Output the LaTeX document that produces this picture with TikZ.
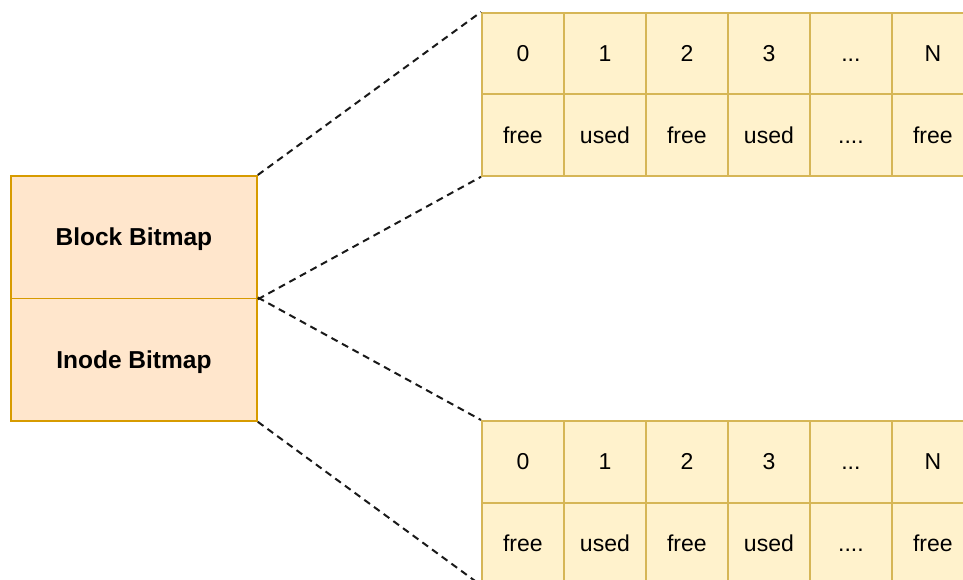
\documentclass[tikz,border=0pt]{standalone}
\usepackage{fontspec}
\setmainfont{Liberation Sans}
\definecolor{orfill}{HTML}{FFE6CC}
\definecolor{ordraw}{HTML}{D79B00}
\definecolor{yefill}{HTML}{FFF2CC}
\definecolor{yedraw}{HTML}{D6B656}
\newcommand\mythreedots{...}
\newcommand\myfourdots{....}
\tikzset{
  cell/.style={draw=yedraw, fill=yefill, line width=1.8pt, minimum width=82pt, minimum height=81.5pt, inner sep=0pt, anchor=north west, text height=16.5pt, text depth=0pt, font=\fontsize{23}{27}\selectfont},
  bmbox/.style={draw=ordraw, fill=orfill, line width=1.8pt, minimum width=246pt, minimum height=122.5pt, inner sep=0pt, anchor=north west, text height=17.5pt, text depth=0pt, font=\fontsize{24.5}{29}\selectfont\bfseries},
  zoomline/.style={line width=2pt, dash pattern=on 7pt off 5pt, black!90}
}
\begin{document}
\begin{tikzpicture}[x=1pt,y=-1pt]
\useasboundingbox (0,0) rectangle (963,580);
\clip (0,0) rectangle (963,580);
% left boxes
\node[bmbox] (blk) at (10,175) {Block Bitmap};
\node[bmbox] (ino) at (10,297.5) {Inode Bitmap};
% top grid
\foreach \i/\h/\s in {0/0/free,1/1/used,2/2/free,3/3/used,4/\mythreedots/\myfourdots,5/N/free}{
  \node[cell] (th\i) at ({481+82*\i},12) {\h};
  \node[cell] (ts\i) at ({481+82*\i},93.5) {\s};
}
% bottom grid
\foreach \i/\h/\s in {0/0/free,1/1/used,2/2/free,3/3/used,4/\mythreedots/\myfourdots,5/N/free}{
  \node[cell] (bh\i) at ({481+82*\i},420) {\h};
  \node[cell] (bs\i) at ({481+82*\i},502) {\s};
}
% connectors
\draw[zoomline] (blk.north east) -- (th0.north west);
\draw[zoomline] (blk.south east) -- (ts0.south west);
\draw[zoomline] (ino.north east) -- (bh0.north west);
\draw[zoomline] (ino.south east) -- (bs0.south west);
\end{tikzpicture}
\end{document}
